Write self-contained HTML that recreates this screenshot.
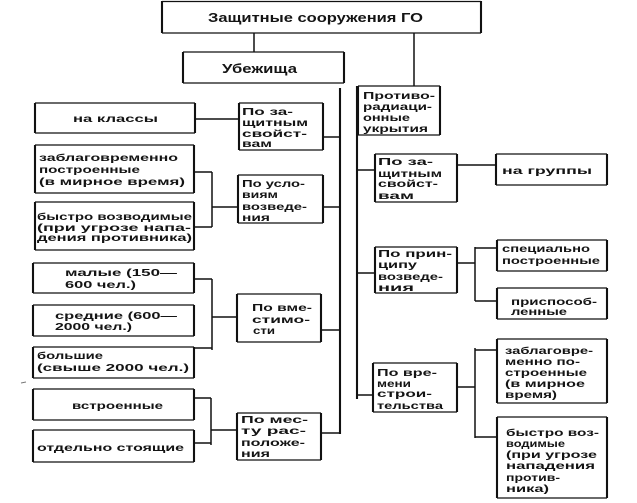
<!DOCTYPE html>
<html><head><meta charset="utf-8"><style>
html,body{margin:0;padding:0;background:#fff;}
svg{display:block;}
.h{stroke:#111;stroke-width:1.3;fill:none;}
.v{stroke:#111;stroke-width:2.1;fill:none;}
.l{stroke:#111;stroke-width:1.5;fill:none;}
text{font-family:"Liberation Sans",sans-serif;font-weight:bold;font-size:10.5px;fill:#141414;}
.t{font-size:12.5px;}
</style></head><body>
<svg width="637" height="503" viewBox="0 0 637 503" xmlns="http://www.w3.org/2000/svg">
<path class="h" d="
M162 1.5H481 M162 33H481
M183 52H344 M183 83H344
M358 86H440 M358 135H440
M35 103H195 M35 133H195
M239 103H323 M239 150H323
M35 145H194 M35 193H194
M35 202H194 M35 250H194
M238 175H323 M238 223H323
M33 263H194 M33 293H194
M33 305H194 M33 336H194
M33 347H194 M33 378H194
M237 294H321 M237 342H321
M33 389H194 M33 420H194
M33 430H194 M33 462H194
M237 413H321 M237 460H321
M375 154H457 M375 202H457
M496 154H607 M496 185H607
M375 247H457 M375 293H457
M497 240H607 M497 271H607
M497 288H607 M497 319H607
M373 363H457 M373 412H457
M497 339H607 M497 403H607
M497 417H607 M497 498H607"/>
<path class="v" d="
M162 1V33 M481 1V33
M183 52V83 M344 52V83
M358 86V135 M440 86V135
M35 103V133 M195 103V133
M239 103V150 M323 103V150
M35 145V193 M194 145V193
M35 202V250 M194 202V250
M238 175V223 M323 175V223
M33 263V293 M194 263V293
M33 305V336 M194 305V336
M33 347V378 M194 347V378
M237 294V342 M321 294V342
M33 389V420 M194 389V420
M33 430V462 M194 430V462
M237 413V460 M321 413V460
M375 154V202 M457 154V202
M496 154V185 M607 154V185
M375 247V293 M457 247V293
M497 240V271 M607 240V271
M497 288V319 M607 288V319
M373 363V412 M457 363V412
M497 339V403 M607 339V403
M497 417V498 M607 417V498"/>
<path class="l" d="
M254 33V52
M414 33V86
M195 119H239
M194 172H212 M194 227H212 M212 172V227 M212 207H238
M194 279H212 M194 348H212 M212 279V350 M212 317H237
M194 398H211 M194 443H211 M211 398V445 M211 430H237
M323 137H340 M323 207H340 M321 330H340 M321 433H340
M457 165H496
M457 263H475 M475 247V301 M475 248H497 M475 301H497
M457 387H475 M475 348V438 M475 350H497 M475 437H497
M357 170H375 M357 273H375 M357 395H373"/>
<path class="v" d="M340 88V434 M357 86V399"/>
<path class="l" d="M21 383l5 -1" style="stroke:#777;stroke-width:1"/>

<text class="t" x="208" y="22" textLength="215" lengthAdjust="spacingAndGlyphs">Защитные сооружения ГО</text>
<text class="t" x="222" y="73" textLength="75" lengthAdjust="spacingAndGlyphs">Убежища</text>

<text x="363" y="99" textLength="72" lengthAdjust="spacingAndGlyphs">Противо-</text>
<text x="363" y="110" textLength="69" lengthAdjust="spacingAndGlyphs">радиаци-</text>
<text x="363" y="121" textLength="47" lengthAdjust="spacingAndGlyphs">онные</text>
<text x="363" y="132" textLength="65" lengthAdjust="spacingAndGlyphs">укрытия</text>

<text x="73" y="122" textLength="85" lengthAdjust="spacingAndGlyphs">на  классы</text>

<text x="242" y="115" textLength="51" lengthAdjust="spacingAndGlyphs">По за-</text>
<text x="242" y="126" textLength="66" lengthAdjust="spacingAndGlyphs">щитным</text>
<text x="242" y="137" textLength="65" lengthAdjust="spacingAndGlyphs">свойст-</text>
<text x="242" y="147" textLength="30" lengthAdjust="spacingAndGlyphs">вам</text>

<text x="39" y="161" textLength="139" lengthAdjust="spacingAndGlyphs">заблаговременно</text>
<text x="39" y="173" textLength="101" lengthAdjust="spacingAndGlyphs">построенные</text>
<text x="39" y="185" textLength="146" lengthAdjust="spacingAndGlyphs">(в мирное время)</text>

<text x="37" y="220" textLength="155" lengthAdjust="spacingAndGlyphs">быстро возводимые</text>
<text x="37" y="231" textLength="154" lengthAdjust="spacingAndGlyphs">(при угрозе напа-</text>
<text x="37" y="241" textLength="155" lengthAdjust="spacingAndGlyphs">дения противника)</text>

<text x="242" y="187" textLength="63" lengthAdjust="spacingAndGlyphs">По усло-</text>
<text x="242" y="198" textLength="36" lengthAdjust="spacingAndGlyphs">виям</text>
<text x="242" y="210" textLength="65" lengthAdjust="spacingAndGlyphs">возведе-</text>
<text x="242" y="221" textLength="28" lengthAdjust="spacingAndGlyphs">ния</text>

<text x="65" y="276" textLength="112" lengthAdjust="spacingAndGlyphs">малые (150—</text>
<text x="65" y="288" textLength="71" lengthAdjust="spacingAndGlyphs">600 чел.)</text>
<text x="55" y="319" textLength="122" lengthAdjust="spacingAndGlyphs">средние (600—</text>
<text x="55" y="330" textLength="77" lengthAdjust="spacingAndGlyphs">2000 чел.)</text>
<text x="37" y="359" textLength="66" lengthAdjust="spacingAndGlyphs">большие</text>
<text x="37" y="371" textLength="152" lengthAdjust="spacingAndGlyphs">(свыше 2000 чел.)</text>

<text x="252" y="311" textLength="60" lengthAdjust="spacingAndGlyphs">По вме-</text>
<text x="252" y="323" textLength="58" lengthAdjust="spacingAndGlyphs">стимо-</text>
<text x="253" y="334" textLength="22" lengthAdjust="spacingAndGlyphs">сти</text>

<text x="72" y="409" textLength="91" lengthAdjust="spacingAndGlyphs">встроенные</text>
<text x="37" y="451" textLength="147" lengthAdjust="spacingAndGlyphs">отдельно стоящие</text>

<text x="241" y="423" textLength="67" lengthAdjust="spacingAndGlyphs">По мес-</text>
<text x="241" y="434" textLength="65" lengthAdjust="spacingAndGlyphs">ту рас-</text>
<text x="241" y="446" textLength="64" lengthAdjust="spacingAndGlyphs">положе-</text>
<text x="241" y="457" textLength="29" lengthAdjust="spacingAndGlyphs">ния</text>

<text x="378" y="165" textLength="55" lengthAdjust="spacingAndGlyphs">По за-</text>
<text x="378" y="177" textLength="64" lengthAdjust="spacingAndGlyphs">щитным</text>
<text x="378" y="187" textLength="60" lengthAdjust="spacingAndGlyphs">свойст-</text>
<text x="378" y="199" textLength="36" lengthAdjust="spacingAndGlyphs">вам</text>

<text x="502" y="174" textLength="90" lengthAdjust="spacingAndGlyphs">на  группы</text>

<text x="378" y="257" textLength="74" lengthAdjust="spacingAndGlyphs">По прин-</text>
<text x="378" y="268" textLength="39" lengthAdjust="spacingAndGlyphs">ципу</text>
<text x="378" y="280" textLength="65" lengthAdjust="spacingAndGlyphs">возведе-</text>
<text x="378" y="291" textLength="36" lengthAdjust="spacingAndGlyphs">ния</text>

<text x="502" y="252" textLength="88" lengthAdjust="spacingAndGlyphs">специально</text>
<text x="502" y="264" textLength="98" lengthAdjust="spacingAndGlyphs">построенные</text>

<text x="511" y="305" textLength="86" lengthAdjust="spacingAndGlyphs">приспособ-</text>
<text x="511" y="315" textLength="56" lengthAdjust="spacingAndGlyphs">ленные</text>

<text x="377" y="376" textLength="60" lengthAdjust="spacingAndGlyphs">По вре-</text>
<text x="377" y="387" textLength="34" lengthAdjust="spacingAndGlyphs">мени</text>
<text x="377" y="397" textLength="55" lengthAdjust="spacingAndGlyphs">строи-</text>
<text x="377" y="409" textLength="66" lengthAdjust="spacingAndGlyphs">тельства</text>

<text x="505" y="354" textLength="88" lengthAdjust="spacingAndGlyphs">заблаговре-</text>
<text x="505" y="365" textLength="75" lengthAdjust="spacingAndGlyphs">менно по-</text>
<text x="505" y="376" textLength="82" lengthAdjust="spacingAndGlyphs">строенные</text>
<text x="505" y="387" textLength="80" lengthAdjust="spacingAndGlyphs">(в мирное</text>
<text x="505" y="398" textLength="52" lengthAdjust="spacingAndGlyphs">время)</text>

<text x="506" y="436" textLength="93" lengthAdjust="spacingAndGlyphs">быстро воз-</text>
<text x="506" y="447" textLength="59" lengthAdjust="spacingAndGlyphs">водимые</text>
<text x="506" y="458" textLength="91" lengthAdjust="spacingAndGlyphs">(при угрозе</text>
<text x="506" y="469" textLength="89" lengthAdjust="spacingAndGlyphs">нападения</text>
<text x="506" y="481" textLength="54" lengthAdjust="spacingAndGlyphs">против-</text>
<text x="506" y="492" textLength="43" lengthAdjust="spacingAndGlyphs">ника)</text>
</svg>
</body></html>
